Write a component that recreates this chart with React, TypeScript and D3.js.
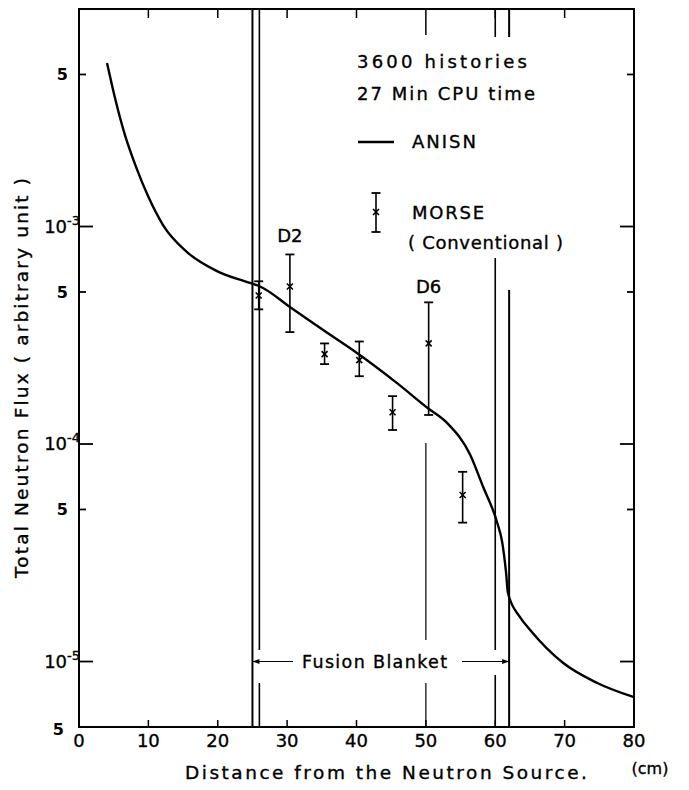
import { useRef, useEffect } from 'react';
import * as d3 from 'd3';

// ANISN curve (cm, flux)
const anisnX = [4.04, 5.19, 6.63, 8.22, 9.95, 12.11, 15.57, 19.89, 24.65, 26.1, 30.4, 35.2, 40.07, 45.8, 50.3, 53.05, 56.4, 58.2, 60.25, 61, 61.55, 61.84, 63.57, 65, 69.8, 74.7, 79.9];
const anisnY = [5.65e-3, 3.9e-3, 2.63e-3, 1.88e-3, 1.38e-3, 1.016e-3, 7.63e-4, 6.24e-4, 5.5e-4, 5.3e-4, 4.27e-4, 3.34e-4, 2.62e-4, 1.91e-4, 1.46e-4, 1.25e-4, 8.9e-5, 6.41e-5, 4.38e-5, 3.54e-5, 2.58e-5, 2.06e-5, 1.6e-5, 1.4e-5, 9.84e-6, 7.97e-6, 6.87e-6];

// MORSE (conventional) points with error bars
const morseX = [25.9, 30.4, 35.4, 40.4, 45.2, 50.4, 55.3];
const morseY = [4.82e-4, 5.3e-4, 2.59e-4, 2.43e-4, 1.4e-4, 2.9e-4, 5.83e-5];
const morseLo = [4.16e-4, 3.27e-4, 2.33e-4, 2.05e-4, 1.16e-4, 1.36e-4, 4.35e-5];
const morseHi = [5.6e-4, 7.44e-4, 2.9e-4, 2.96e-4, 1.66e-4, 4.48e-4, 7.45e-5];

const xTicks = [0, 10, 20, 30, 40, 50, 60, 70, 80];
const yDecades = [1e-5, 1e-4, 1e-3];
const yFives = [5e-6, 5e-5, 5e-4, 5e-3];
const decadeExp = ['-5', '-4', '-3'];

const FONT = 'DejaVu Sans, sans-serif';

export default function App() {
    const svgRef = useRef<SVGSVGElement>(null);

    useEffect(() => {
        if (!svgRef.current) return;
        const W = 689, H = 790;
        const svg = d3.select(svgRef.current);
        svg.selectAll('*').remove();
        svg.attr('width', W).attr('height', H);

        svg.append('rect').attr('width', W).attr('height', H).attr('fill', 'white');

        const left = 79, right = 634, top = 9, bottom = 727;
        const x = d3.scaleLinear().domain([0, 80]).range([left, right]);
        const y = d3.scaleLog().domain([5e-6, 1e-2]).range([bottom, top]);

        // frame
        svg.append('rect')
            .attr('x', left).attr('y', top)
            .attr('width', right - left).attr('height', bottom - top)
            .attr('fill', 'none').attr('stroke', '#000').attr('stroke-width', 2);

        // y ticks, both sides, inward
        yDecades.forEach(v => {
            svg.append('line').attr('x1', left).attr('x2', left + 14).attr('y1', y(v)).attr('y2', y(v)).attr('stroke', '#000').attr('stroke-width', 1.8);
            svg.append('line').attr('x1', right).attr('x2', right - 14).attr('y1', y(v)).attr('y2', y(v)).attr('stroke', '#000').attr('stroke-width', 1.8);
        });
        yFives.forEach(v => {
            svg.append('line').attr('x1', left).attr('x2', left + 7).attr('y1', y(v)).attr('y2', y(v)).attr('stroke', '#000').attr('stroke-width', 1.8);
            svg.append('line').attr('x1', right).attr('x2', right - 7).attr('y1', y(v)).attr('y2', y(v)).attr('stroke', '#000').attr('stroke-width', 1.8);
        });

        const txt = (sel: d3.Selection<SVGTextElement, unknown, null, undefined>, size: number) =>
            sel.attr('font-family', FONT).attr('font-size', size)
                .attr('fill', '#000').attr('stroke', '#000').attr('stroke-width', 0.35);

        // y tick labels
        yFives.forEach(v => {
            svg.append('text')
                .attr('x', v === 5e-6 ? 64 : 68).attr('y', y(v) + (v === 5e-6 ? 2 : 0))
                .attr('dy', '0.35em')
                .attr('text-anchor', 'end')
                .attr('font-family', FONT).attr('font-size', 16).attr('font-weight', 'bold')
                .text('5');
        });
        yDecades.forEach((v, i) => {
            const t = txt(svg.append('text'), 18)
                .attr('x', 80).attr('y', y(v))
                .attr('dy', '0.35em')
                .attr('text-anchor', 'end');
            t.append('tspan').text('10');
            t.append('tspan').attr('dy', -8).attr('font-size', 13).text(decadeExp[i]);
        });

        // x ticks: inward at top and bottom
        xTicks.slice(1, -1).forEach(v => {
            svg.append('line').attr('x1', x(v)).attr('x2', x(v)).attr('y1', top).attr('y2', top + (v === 50 ? 26 : 9)).attr('stroke', '#000').attr('stroke-width', 1.5);
            svg.append('line').attr('x1', x(v)).attr('x2', x(v)).attr('y1', bottom).attr('y2', bottom - 7).attr('stroke', '#000').attr('stroke-width', 1.5);
        });
        xTicks.forEach(v => {
            txt(svg.append('text'), 18)
                .attr('x', x(v)).attr('y', 741)
                .attr('dy', '0.35em')
                .attr('text-anchor', 'middle')
                .text(v);
        });

        // axis titles
        txt(svg.append('text'), 18.5)
            .attr('x', 185).attr('y', 773).attr('dy', '0.35em')
            .attr('textLength', 402).attr('lengthAdjust', 'spacing')
            .text('Distance  from  the  Neutron  Source.');
        txt(svg.append('text'), 16)
            .attr('x', 650).attr('y', 768).attr('dy', '0.35em')
            .attr('text-anchor', 'middle')
            .text('(cm)');
        txt(svg.append('text'), 18.5)
            .attr('transform', 'translate(22,378) rotate(-90)')
            .attr('dy', '0.35em')
            .attr('text-anchor', 'middle')
            .attr('textLength', 400).attr('lengthAdjust', 'spacing')
            .text('Total  Neutron  Flux  ( arbitrary  unit )');

        // zone boundary lines
        const vline = (cm: number, segs: [number, number][], w = 1.6) => {
            segs.forEach(([a, b]) => {
                svg.append('line').attr('x1', x(cm)).attr('x2', x(cm)).attr('y1', a).attr('y2', b)
                    .attr('stroke', '#000').attr('stroke-width', w);
            });
        };
        vline(25, [[top, bottom]], 2);
        vline(26, [[top, 650], [683, bottom]]);
        vline(50, [[443, 640], [683, bottom]], 1.2);
        vline(60, [[top, 37], [258, 650], [675, bottom]]);
        vline(62, [[top, 37], [290, bottom]], 2);

        // Fusion blanket arrow
        const ay = y(1e-5);
        svg.append('line').attr('x1', x(25)).attr('x2', 293).attr('y1', ay).attr('y2', ay).attr('stroke', '#000').attr('stroke-width', 1.2);
        svg.append('line').attr('x1', 462).attr('x2', x(62)).attr('y1', ay).attr('y2', ay).attr('stroke', '#000').attr('stroke-width', 1.2);
        svg.append('path').attr('d', `M${x(25)},${ay} l7,-2.5 l0,5 z`).attr('fill', '#000');
        svg.append('path').attr('d', `M${x(62)},${ay} l-7,-2.5 l0,5 z`).attr('fill', '#000');
        txt(svg.append('text'), 17.5)
            .attr('x', 302).attr('y', ay).attr('dy', '0.35em')
            .attr('textLength', 145).attr('lengthAdjust', 'spacing')
            .text('Fusion Blanket');

        // ANISN curve
        const line = d3.line<number>()
            .x((_, i) => x(anisnX[i]))
            .y(d => y(d))
            .curve(d3.curveMonotoneX);
        svg.append('path')
            .attr('d', line(anisnY))
            .attr('fill', 'none').attr('stroke', '#000').attr('stroke-width', 2.4);

        // MORSE error bars
        const drawErr = (cx: number, cy: number, lo: number, hi: number) => {
            const g = svg.append('g').attr('stroke', '#000');
            g.append('line').attr('x1', cx).attr('x2', cx).attr('y1', hi).attr('y2', lo).attr('stroke-width', 1.6);
            g.append('line').attr('x1', cx - 4.5).attr('x2', cx + 4.5).attr('y1', hi).attr('y2', hi).attr('stroke-width', 1.8);
            g.append('line').attr('x1', cx - 4.5).attr('x2', cx + 4.5).attr('y1', lo).attr('y2', lo).attr('stroke-width', 1.8);
            g.append('path').attr('d', `M${cx - 3},${cy - 3}L${cx + 3},${cy + 3}M${cx - 3},${cy + 3}L${cx + 3},${cy - 3}`).attr('stroke-width', 1.6);
        };
        morseX.forEach((v, i) => drawErr(x(v), y(morseY[i]), y(morseLo[i]), y(morseHi[i])));

        // detector labels
        txt(svg.append('text'), 18).attr('x', x(30.4)).attr('y', 236).attr('dy', '0.35em').attr('text-anchor', 'middle').text('D2');
        txt(svg.append('text'), 18).attr('x', x(50.4)).attr('y', 287).attr('dy', '0.35em').attr('text-anchor', 'middle').text('D6');

        // notes and legend
        const note = (tx: number, ty: number, s: string, len: number) => {
            txt(svg.append('text'), 18)
                .attr('x', tx).attr('y', ty).attr('dy', '0.35em')
                .attr('textLength', len).attr('lengthAdjust', 'spacing')
                .text(s);
        };
        note(357, 62, '3600 histories', 170);
        note(357, 94, '27 Min CPU time', 178);
        svg.append('line').attr('x1', 358).attr('x2', 394).attr('y1', 142).attr('y2', 142).attr('stroke', '#000').attr('stroke-width', 2.4);
        note(412, 142, 'ANISN', 64);
        drawErr(376, 212, 232, 193);
        note(412, 213, 'MORSE', 72);
        note(408, 243, '( Conventional )', 155);
    }, []);

    return (
        <div style={{ position: 'absolute', left: 0, top: 0 }}>
            <svg ref={svgRef} style={{ display: 'block' }} />
        </div>
    );
}
